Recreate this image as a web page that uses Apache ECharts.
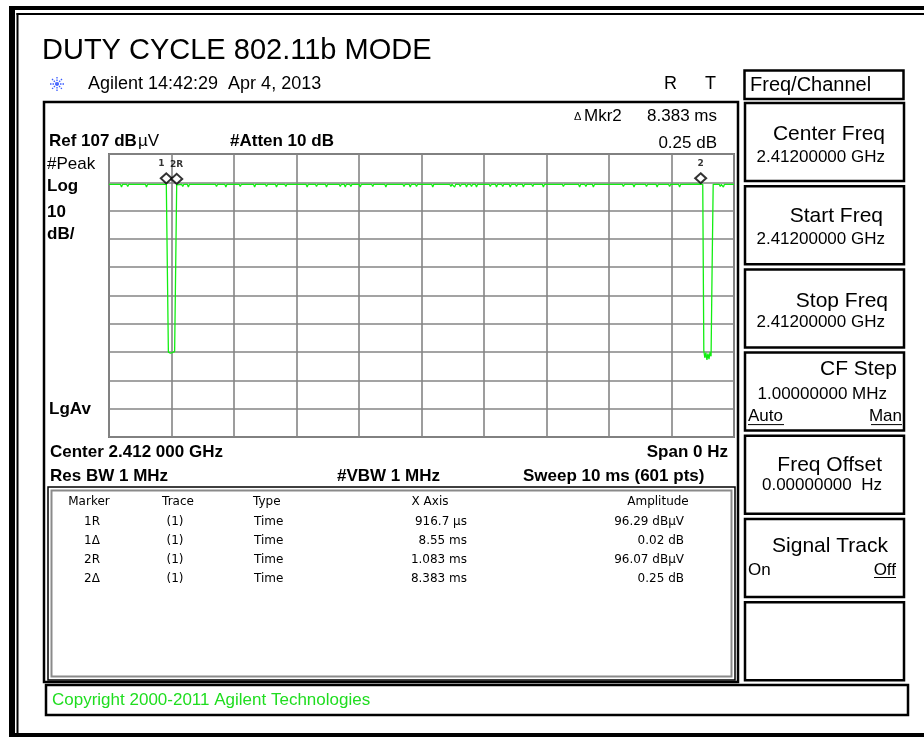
<!DOCTYPE html>
<html><head><meta charset="utf-8">
<script src="https://cdn.jsdelivr.net/npm/echarts@6/dist/echarts.min.js"></script>
<style>html,body{margin:0;padding:0;background:#fff}#c{width:924px;height:740px}</style>
</head><body><div id="c"></div>
<script>
// ---------- data ----------
const titleText = 'DUTY CYCLE 802.11b MODE';
const stampText = 'Agilent 14:42:29  Apr 4, 2013';
const sweepRangeMs = [0, 10];
const gridDivisions = [0, 100];           // 10 divisions x 10 dB
const levelRangeDbuv = [7, 107];          // Ref 107 dBuV, 10 dB/div
const tracePoints = [
 [0.000,96.3],[0.183,96.3],[0.200,95.3],[0.217,96.3],
 [0.283,96.3],[0.300,95.5],[0.317,96.3],
 [0.583,96.3],[0.600,95.3],[0.617,96.3],
 [0.917,96.29],[0.933,96.3],
 [0.950,37.0],[0.967,36.4],[0.983,36.6],[1.000,37.1],[1.017,36.9],[1.033,37.0],[1.050,37.2],[1.067,37.0],
 [1.083,96.07],
 [1.163,96.3],[1.180,95.5],[1.197,96.3],
 [1.253,96.3],[1.270,95.3],[1.287,96.3],
 [1.703,96.3],[1.720,95.5],[1.737,96.3],
 [1.853,96.3],[1.870,95.3],[1.887,96.3],
 [2.083,96.3],[2.100,95.5],[2.117,96.3],
 [2.313,96.3],[2.330,95.3],[2.347,96.3],
 [2.503,96.3],[2.520,95.5],[2.537,96.3],
 [2.663,96.3],[2.680,95.3],[2.697,96.3],
 [2.813,96.3],[2.830,95.5],[2.847,96.3],
 [3.153,96.3],[3.170,95.3],[3.187,96.3],
 [3.303,96.3],[3.320,95.5],[3.337,96.3],
 [3.463,96.3],[3.480,95.3],[3.497,96.3],
 [3.683,96.3],[3.700,95.5],[3.717,96.3],
 [3.763,96.3],[3.780,95.3],[3.797,96.3],
 [3.853,96.3],[3.870,95.5],[3.887,96.3],
 [4.003,96.3],[4.020,95.3],[4.037,96.3],
 [4.203,96.3],[4.220,95.5],[4.237,96.3],
 [4.413,96.3],[4.430,95.3],[4.447,96.3],
 [4.703,96.3],[4.720,95.5],[4.737,96.3],
 [4.803,96.3],[4.820,95.3],[4.837,96.3],
 [4.903,96.3],[4.920,95.5],[4.937,96.3],
 [5.163,96.3],[5.180,95.3],[5.197,96.3],
 [5.453,96.3],[5.470,95.5],[5.487,96.3],
 [5.513,96.3],[5.530,95.3],[5.547,96.3],
 [5.603,96.3],[5.620,95.5],[5.637,96.3],
 [5.703,96.3],[5.720,95.3],[5.737,96.3],
 [5.783,96.3],[5.800,95.5],[5.817,96.3],
 [5.863,96.3],[5.880,95.3],[5.897,96.3],
 [6.083,96.3],[6.100,95.5],[6.117,96.3],
 [6.183,96.3],[6.200,95.3],[6.217,96.3],
 [6.283,96.3],[6.300,95.5],[6.317,96.3],
 [6.403,96.3],[6.420,95.3],[6.437,96.3],
 [6.503,96.3],[6.520,95.5],[6.537,96.3],
 [6.613,96.3],[6.630,95.3],[6.647,96.3],
 [6.763,96.3],[6.780,95.5],[6.797,96.3],
 [6.933,96.3],[6.950,95.3],[6.967,96.3],
 [7.253,96.3],[7.270,95.5],[7.287,96.3],
 [7.513,96.3],[7.530,95.3],[7.547,96.3],
 [7.613,96.3],[7.630,95.5],[7.647,96.3],
 [7.733,96.3],[7.750,95.3],[7.767,96.3],
 [8.213,96.3],[8.230,95.5],[8.247,96.3],
 [8.383,96.3],[8.400,95.3],[8.417,96.3],
 [8.583,96.3],[8.600,95.5],[8.617,96.3],
 [8.753,96.3],[8.770,95.3],[8.787,96.3],
 [8.953,96.3],[8.970,95.5],[8.987,96.3],
 [9.113,96.3],[9.130,95.3],[9.147,96.3],
 [9.467,96.31],[9.500,96.3],
 [9.517,37.5],[9.533,35.0],[9.550,36.8],[9.567,34.2],[9.583,36.5],[9.600,34.5],[9.617,37.0],[9.633,35.5],
 [9.650,67.2],[9.667,96.3],
 [9.763,96.3],[9.780,95.5],[9.797,96.3],
 [9.813,96.3],[9.830,95.3],[9.847,96.3],
 [10.000,96.3]
];
const markerPoints = [[0.9167, 96.29], [1.0833, 96.07], [9.4667, 96.31]];
const markerNames = ['1', '2R', '2'];
const tableHeaders = ['Marker', 'Trace', 'Type', 'X Axis', 'Amplitude'];
const tableMarker = ['1R', '1\u0394', '2R', '2\u0394'];
const tableTrace = ['(1)', '(1)', '(1)', '(1)'];
const tableType = ['Time', 'Time', 'Time', 'Time'];
const tableX = ['916.7 \u00b5s', '8.55 ms', '1.083 ms', '8.383 ms'];
const tableAmp = ['96.29 dB\u00b5V', '0.02 dB', '96.07 dB\u00b5V', '0.25 dB'];
const softTitle = 'Freq/Channel';
const softLabels = ['Center Freq', 'Start Freq', 'Stop Freq', 'CF Step', 'Freq Offset', 'Signal Track', ''];
const softValues = ['2.41200000 GHz', '2.41200000 GHz', '2.41200000 GHz', '1.00000000 MHz', '0.00000000  Hz', '', ''];

// ---------- drawing helpers ----------
const F = '"Liberation Sans", Arial, sans-serif';
const G = [];
function box(x, y, w, h, stroke, lw, fill) {
  G.push({type:'rect', silent:true, z:10, shape:{x:x, y:y, width:w, height:h},
    style:{fill: fill || 'none', stroke: stroke, lineWidth: lw}});
}
function bar(x, y, w, h) {
  G.push({type:'rect', silent:true, z:10, shape:{x:x, y:y, width:w, height:h}, style:{fill:'#000', stroke:'none'}});
}
function line(x1, y1, x2, y2, color, lw, dash) {
  G.push({type:'line', silent:true, z:11, shape:{x1:x1, y1:y1, x2:x2, y2:y2},
    style:{stroke: color, lineWidth: lw, lineDash: dash || null}});
}
function txt(x, y, s, size, opts) {
  opts = opts || {};
  const font = (opts.bold ? 'bold ' : '') + size + 'px ' + (opts.family || F);
  const al = opts.align || 'left';
  G.push({type:'text', silent:true, z:12, x:x, y:y,
    style:{text:s, font:font, fill: opts.color || '#000', align:al, verticalAlign:'middle',
      textAlign:al, textVerticalAlign:'middle'}});
}

// outer frame
bar(9, 6, 915, 4);
bar(9, 6, 6, 731);
bar(16.5, 13, 908, 2);
bar(16.5, 13, 2, 720);
bar(9, 733, 915, 4);

// title and stamp
txt(42, 51, titleText, 29);
// agilent star icon
line(50, 84, 64, 84, '#3a5cff', 1.3, [1.5, 1]);
line(57, 77, 57, 91, '#3a5cff', 1.3, [1.5, 1]);
line(52, 79, 62, 89, '#3a5cff', 1.3, [1.5, 1]);
line(62, 79, 52, 89, '#3a5cff', 1.3, [1.5, 1]);
txt(88, 84, stampText, 18);
txt(664, 84, 'R', 18);
txt(705, 84, 'T', 18);

// main display box
box(44, 102, 694, 580, '#000', 2.5);
txt(49, 141, 'Ref 107 dB', 17, {bold:true});
txt(138, 141, '\u00b5V', 17);
txt(230, 141, '#Atten 10 dB', 17, {bold:true});
txt(574, 117, '\u0394', 11);
txt(584, 116.5, 'Mkr2', 17);
txt(717, 116.5, '8.383 ms', 17, {align:'right'});
txt(717, 143, '0.25 dB', 17, {align:'right'});
txt(47, 164, '#Peak', 17);
txt(47, 186, 'Log', 17, {bold:true});
txt(47, 212, '10', 17, {bold:true});
txt(47, 234, 'dB/', 17, {bold:true});
txt(49, 409, 'LgAv', 17, {bold:true});
txt(50, 452, 'Center 2.412 000 GHz', 17, {bold:true});
txt(728, 452, 'Span 0 Hz', 17, {bold:true, align:'right'});
txt(50, 476, 'Res BW 1 MHz', 17, {bold:true});
txt(337, 476, '#VBW 1 MHz', 17, {bold:true});
txt(523, 476, 'Sweep 10 ms (601 pts)', 17, {bold:true});

// marker table
box(48, 487, 687, 193, '#000', 1.5);
box(51.5, 490.5, 680, 186, '#8a8a8a', 2);
const TF = '"DejaVu Sans", sans-serif';
txt(89, 502, tableHeaders[0], 12, {family:TF, align:'center'});
txt(178, 502, tableHeaders[1], 12, {family:TF, align:'center'});
txt(253, 502, tableHeaders[2], 12, {family:TF});
txt(430, 502, tableHeaders[3], 12, {family:TF, align:'center'});
txt(658, 502, tableHeaders[4], 12, {family:TF, align:'center'});
for (let i = 0; i < tableMarker.length; i++) {
  const y = 521.5 + i * 19;
  txt(92, y, tableMarker[i], 12, {family:TF, align:'center'});
  txt(175, y, tableTrace[i], 12, {family:TF, align:'center'});
  txt(254, y, tableType[i], 12, {family:TF});
  txt(467, y, tableX[i], 12, {family:TF, align:'right'});
  txt(684, y, tableAmp[i], 12, {family:TF, align:'right'});
}

// softkeys
box(744.5, 70.5, 159, 28.5, '#000', 2.5, '#fff');
txt(750, 85, softTitle, 20);
const labelOff = [31, 30.5, 31.5, 17, 29.5, 27.5, 0];
const valueOff = [54, 53, 53, 42, 49.5, 0, 0];
const labelRight = [885, 883, 888, 897, 882, 888, 0];
const valueRight = [885, 885, 885, 887, 882, 0, 0];
for (let i = 0; i < softLabels.length; i++) {
  const top = 103 + i * 83.2;
  box(745, top, 159, 78, '#000', 2.5, '#fff');
  if (softLabels[i]) txt(labelRight[i], top + labelOff[i], softLabels[i], 21, {align:'right'});
  if (softValues[i]) txt(valueRight[i], top + valueOff[i], softValues[i], 17, {align:'right'});
}
// CF Step Auto / Man
const cfTop = 103 + 3 * 83.2;
txt(748, cfTop + 64, 'Auto', 17);
line(748, cfTop + 72, 784, cfTop + 72, '#000', 1);
txt(902, cfTop + 64, 'Man', 17, {align:'right'});
line(871, cfTop + 72, 902, cfTop + 72, '#000', 1);
// Signal Track On / Off
const stTop = 103 + 5 * 83.2;
txt(748, stTop + 51, 'On', 17);
txt(896, stTop + 51, 'Off', 17, {align:'right'});
line(874, stTop + 58.5, 896, stTop + 58.5, '#000', 1);

// copyright
box(46, 685, 862, 30, '#000', 2.5);
txt(52, 700, 'Copyright 2000-2011 Agilent Technologies', 17, {color:'#1fdd1f'});

// ---------- chart ----------
const gridLine = {show:true, lineStyle:{color:'#858585', width:1.6}};
const chart = echarts.init(document.getElementById('c'), null, {renderer:'canvas'});
chart.setOption({
  animation:false,
  backgroundColor:'#fff',
  grid:{left:109, top:154, width:625, height:283, show:true, borderColor:'#777', borderWidth:2, backgroundColor:'#fff'},
  xAxis:{type:'value', min:sweepRangeMs[0], max:sweepRangeMs[1], interval:1,
    axisLine:{show:false}, axisTick:{show:false}, axisLabel:{show:false}, splitLine:gridLine},
  yAxis:[
    {type:'value', min:gridDivisions[0], max:gridDivisions[1], interval:10,
      axisLine:{show:false}, axisTick:{show:false}, axisLabel:{show:false}, splitLine:gridLine},
    {type:'value', min:levelRangeDbuv[0], max:levelRangeDbuv[1], show:false, splitLine:{show:false}}
  ],
  series:[
    {type:'line', data:tracePoints, yAxisIndex:1, showSymbol:false, symbol:'none',
      lineStyle:{color:'#12ee12', width:1.3}, z:3},
    {type:'scatter', yAxisIndex:1, z:5,
      data: markerPoints.map(function(p, i){
        return {value:p, label:{offset: i === 0 ? [-5, 0] : [0, 0]}};
      }),
      symbol:'diamond', symbolSize:[11, 10], symbolOffset:[0, -6],
      itemStyle:{color:'#fff', borderColor:'#000', borderWidth:2},
      label:{show:true, position:'top', distance:4, color:'#000', fontSize:9, fontWeight:'bold',
        fontFamily:'"DejaVu Sans", sans-serif',
        formatter:function(p){ return markerNames[p.dataIndex]; }}}
  ],
  graphic:{elements:G}
});
</script>
</body></html>
